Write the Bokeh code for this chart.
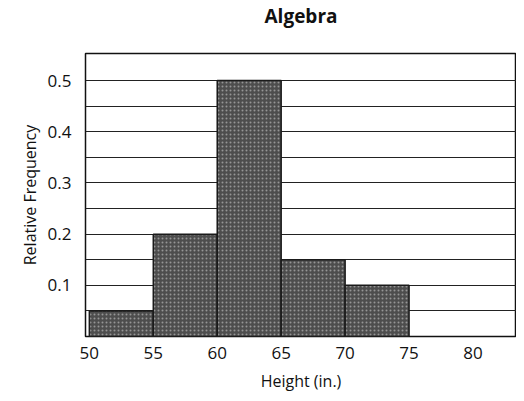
from bokeh.plotting import figure
from bokeh.models import FixedTicker, Range1d, Title
from bokeh.embed import file_html
from bokeh.resources import INLINE

title_text = "Algebra"
bin_edges = [50, 55, 60, 65, 70, 75]
rel_freq = [0.05, 0.2, 0.5, 0.15, 0.1]
x_ticks = [50, 55, 60, 65, 70, 75, 80]
y_ticks = [0.1, 0.2, 0.3, 0.4, 0.5]
grid_lines = [0.05, 0.1, 0.15, 0.2, 0.25, 0.3, 0.35, 0.4, 0.45, 0.5]

FONT = "Open Sans"

p = figure(width=516, height=398, output_backend="svg", toolbar_location=None,
           x_range=Range1d(49.7, 83.4), y_range=Range1d(0, 0.553),
           min_border_left=85, min_border_top=52, min_border_bottom=62, min_border_right=0)

spacer = Title(text=" ", text_font_size="9px", text_font=FONT)
p.add_layout(spacer, "above")
main_title = Title(text=title_text, align="center", text_font=FONT, standoff=0,
                   text_font_size="19px", text_font_style="bold", text_color="#111111")
p.add_layout(main_title, "above")

p.quad(left=bin_edges[:-1], right=bin_edges[1:], bottom=0, top=rel_freq,
       fill_color="#4d4d4d", line_color="#1a1a1a", line_width=1.5,
       hatch_pattern="dot", hatch_color="#d0d0d0", hatch_scale=4, hatch_alpha=0.55)

p.outline_line_color = "#111111"
p.outline_line_width = 1.5

p.xgrid.grid_line_color = None
p.ygrid.ticker = FixedTicker(ticks=grid_lines)
p.ygrid.grid_line_color = "#222222"
p.ygrid.grid_line_width = 1.2

for ax in (p.xaxis[0], p.yaxis[0]):
    ax.axis_line_color = None
    ax.major_tick_line_color = None
    ax.minor_tick_line_color = None
    ax.major_tick_out = 0
    ax.major_tick_in = 0
    ax.major_label_text_font = FONT
    ax.major_label_text_font_size = "17px"
    ax.major_label_text_color = "#111111"
    ax.axis_label_text_font = FONT
    ax.axis_label_text_font_size = "16px"
    ax.axis_label_text_font_style = "normal"
    ax.axis_label_text_color = "#111111"

p.xaxis.ticker = FixedTicker(ticks=x_ticks)
p.yaxis.ticker = FixedTicker(ticks=y_ticks)
p.xaxis.axis_label = "Height (in.)"
p.yaxis.axis_label = "Relative Frequency"
p.xaxis.major_label_standoff = 10
p.xaxis.axis_label_standoff = 8
p.yaxis.major_label_standoff = 14
p.yaxis.axis_label_standoff = 4

open("out.html", "w").write(file_html(p, INLINE))
